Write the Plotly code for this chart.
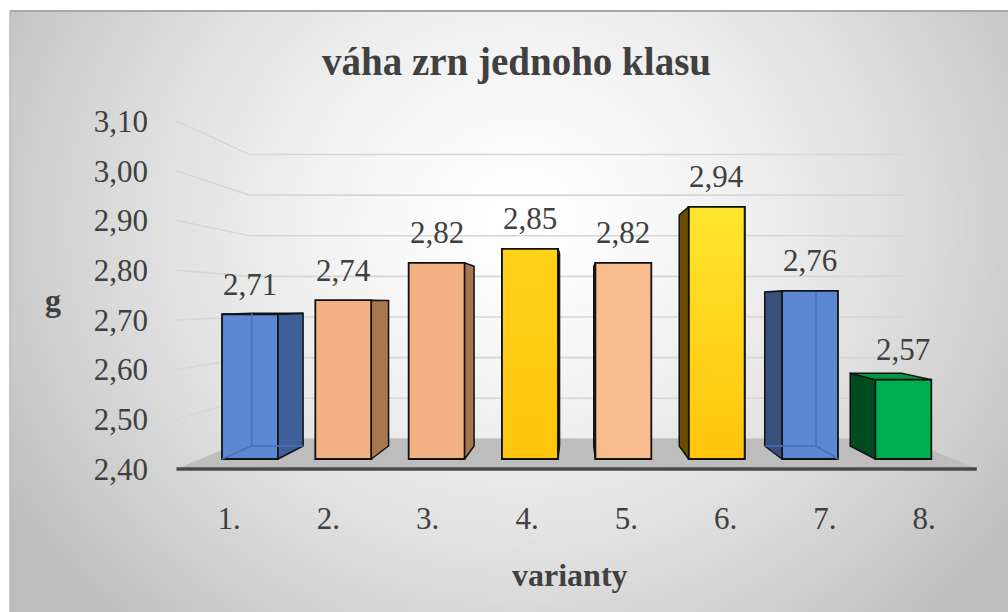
import base64
import struct
import zlib

import numpy as np
import plotly.graph_objects as go

# ---------------- data ----------------
categories = ["1.", "2.", "3.", "4.", "5.", "6.", "7.", "8."]
values = [2.71, 2.74, 2.82, 2.85, 2.82, 2.94, 2.76, 2.57]
front_colors = ["#5b87d4", "#f4b183", "#f4b183", "#ffc50c", "#f9bc8f", "#ffc50c", "#5b87d4", "#00b050"]
side_colors = ["#3f5f99", "#a8764f", "#a8764f", "#7a5a00", "#a8764f", "#6b4d00", "#394f7c", "#004b20"]
top_colors = ["#4a73bd", "#d99a6c", "#d99a6c", "#e0aa00", "#d99a6c", "#e0aa00", "#4a73bd", "#009a44"]
gradient_tops = [None, None, None, "#ffd21a", None, "#ffe52e", None, None]
y_ticks = [2.40, 2.50, 2.60, 2.70, 2.80, 2.90, 3.00, 3.10]

TITLE = "váha zrn jednoho klasu"
X_TITLE = "varianty"
Y_TITLE = "g"

# ---------------- geometry / style ----------------
W, H = 1008, 612
FONT = "Liberation Serif"
TXT = "#404040"
BASE = y_ticks[0]
N = len(values)

# scale of the bar plane (pixels per category / per unit)
PX0, PX_STEP = 250.0, 93.33
PY_BASE, PY_UNIT = 459.0, 467.0
x_range = [(0 - PX0) / PX_STEP, (W - PX0) / PX_STEP]
y_range = [BASE - (H - PY_BASE) / PY_UNIT, BASE + PY_BASE / PY_UNIT]

# simple perspective: vanishing point + depth factors
VX = (N - 1) / 2.0
VY = BASE + (PY_BASE - 304.0) / PY_UNIT
K_BAR = 0.084     # bar depth
K_BACK = 0.13     # back wall
K_FRONT = -0.064  # front edge of the floor / side wall
WALL_L, WALL_R = -0.53, (N - 1) + 0.53
BAR_W = 0.60
EDGE = "#111111"


def proj(x, y, k):
    return x + k * (VX - x), y + k * (VY - y)


def fmt(v):
    return f"{v:.2f}".replace(".", ",")


def make_png(rgb):
    h, w, _ = rgb.shape
    raw = b"".join(b"\x00" + rgb[r].tobytes() for r in range(h))

    def chunk(tag, data):
        c = struct.pack(">I", len(data)) + tag + data
        return c + struct.pack(">I", zlib.crc32(tag + data) & 0xFFFFFFFF)

    ihdr = struct.pack(">IIBBBBB", w, h, 8, 2, 0, 0, 0)
    return (b"\x89PNG\r\n\x1a\n" + chunk(b"IHDR", ihdr)
            + chunk(b"IDAT", zlib.compress(raw, 9)) + chunk(b"IEND", b""))


# radial background gradient
gw, gh = 250, 150
gx = np.linspace(10, W, gw)[None, :]
gy = np.linspace(11, H, gh)[:, None]
d = np.sqrt(((gx - 520) / 560) ** 2 + ((gy - 220) / 520) ** 2)
t = np.clip(d, 0, 1.08) ** 1.5
c = (255 - 58 * t).clip(0, 255).astype(np.uint8)
bg = np.stack([c, c, c], axis=-1)
bg_uri = "data:image/png;base64," + base64.b64encode(make_png(bg)).decode()

fig = go.Figure()

# ---------------- walls: gridlines + floor (shapes below traces) ----------------
shapes = []
for v in y_ticks:
    p0 = proj(WALL_L, v, K_FRONT)
    p1 = proj(WALL_L, v, K_BACK)
    p2 = proj(WALL_R, v, K_BACK)
    shapes.append(dict(type="path", xref="x", yref="y", layer="below",
                       path=f"M {p0[0]},{p0[1]} L {p1[0]},{p1[1]} L {p2[0]},{p2[1]}",
                       line=dict(color="#d6d6d6", width=1.6)))
f0 = proj(WALL_L, BASE, K_FRONT)
f1 = proj(WALL_R, BASE, K_FRONT)
f2 = proj(WALL_R, BASE, K_BACK)
f3 = proj(WALL_L, BASE, K_BACK)
shapes.append(dict(type="path", xref="x", yref="y", layer="below",
                   path=f"M {f0[0]},{f0[1]} L {f1[0]},{f1[1]} L {f2[0]},{f2[1]} L {f3[0]},{f3[1]} Z",
                   fillcolor="#bdbdbd", line=dict(width=0)))
shapes.append(dict(type="line", xref="x", yref="y", layer="below",
                   x0=f0[0], y0=f0[1], x1=f1[0], y1=f1[1],
                   line=dict(color="#4a4a4a", width=3.5)))
# chart frame border (top + left)
shapes.append(dict(type="line", xref="paper", yref="paper", x0=10 / W, x1=1, y0=1 - 11 / H, y1=1 - 11 / H,
                   line=dict(color="#a8a8a8", width=2)))
shapes.append(dict(type="line", xref="paper", yref="paper", x0=10 / W, x1=10 / W, y0=0, y1=1 - 11 / H,
                   line=dict(color="#b8b8b8", width=1.5)))

# ---------------- front faces (bars) ----------------
fig.add_trace(go.Bar(
    x=list(range(N)), y=[v - BASE for v in values], base=BASE, width=BAR_W,
    marker=dict(color=front_colors, line=dict(color=EDGE, width=1.8)),
    hoverinfo="skip", showlegend=False,
))

# vertical colour gradient on the yellow front faces
for i, v in enumerate(values):
    if gradient_tops[i]:
        xl, xr = i - BAR_W / 2, i + BAR_W / 2
        fig.add_trace(go.Scatter(
            x=[xl, xr, xr, xl, xl], y=[BASE, BASE, v, v, BASE], mode="lines", fill="toself",
            fillgradient=dict(type="vertical",
                              colorscale=[[0, front_colors[i]], [1, gradient_tops[i]]]),
            line=dict(color=EDGE, width=1.8), hoverinfo="skip", showlegend=False))

# ---------------- side / top faces ----------------
for i, v in enumerate(values):
    xl, xr = i - BAR_W / 2, i + BAR_W / 2
    faces = []
    e = xr if i < VX else xl
    a = (e, BASE)
    b = (e, v)
    cc = proj(e, v, K_BAR)
    dd = proj(e, BASE, K_BAR)
    faces.append(([a[0], b[0], cc[0], dd[0], a[0]], [a[1], b[1], cc[1], dd[1], a[1]], side_colors[i]))
    if v < VY:
        p1 = proj(xr, v, K_BAR)
        p2 = proj(xl, v, K_BAR)
        faces.append(([xl, xr, p1[0], p2[0], xl], [v, v, p1[1], p2[1], v], top_colors[i]))
    for fx, fy, col in faces:
        fig.add_trace(go.Scatter(x=fx, y=fy, mode="lines", fill="toself", fillcolor=col,
                                 line=dict(color=EDGE, width=1.5),
                                 hoverinfo="skip", showlegend=False))
    # hidden back edges seen through the translucent blue bars
    if front_colors[i] == "#5b87d4":
        far = xl if i < VX else xr
        q0 = proj(far, BASE, K_BAR)
        q1 = proj(far, v, K_BAR)
        q2 = proj(e, BASE, K_BAR)
        fig.add_trace(go.Scatter(x=[far, q0[0], q1[0], None, q0[0], q2[0]],
                                 y=[BASE, q0[1], q1[1], None, q0[1], q2[1]],
                                 mode="lines", line=dict(color="#4670b8", width=1.5),
                                 hoverinfo="skip", showlegend=False))

# ---------------- value labels & titles ----------------
annotations = []
for i, v in enumerate(values):
    annotations.append(dict(x=i, y=v, xref="x", yref="y", text=fmt(v), showarrow=False,
                            xanchor="center", yanchor="middle",
                            yshift=30, font=dict(family=FONT, size=31, color=TXT)))

annotations.append(dict(x=516 / W, y=1 - 62 / H, xref="paper", yref="paper", text=f"<b>{TITLE}</b>",
                        xanchor="center", yanchor="middle",
                        showarrow=False, font=dict(family=FONT, size=39, color=TXT)))
annotations.append(dict(x=570 / W, y=1 - 575 / H, xref="paper", yref="paper", text=f"<b>{X_TITLE}</b>",
                        xanchor="center", yanchor="middle",
                        showarrow=False, font=dict(family=FONT, size=32, color=TXT)))
annotations.append(dict(x=53 / W, y=1 - 300 / H, xref="paper", yref="paper", text=f"<b>{Y_TITLE}</b>",
                        xanchor="center", yanchor="middle",
                        showarrow=False, font=dict(family=FONT, size=32, color=TXT)))

x_tickvals = [proj(i, BASE, K_FRONT)[0] for i in range(N)]
y_tickvals = [proj(WALL_L, v, K_FRONT)[1] for v in y_ticks]

fig.update_layout(
    width=W, height=H, autosize=False,
    margin=dict(l=0, r=0, t=0, b=0, pad=0),
    paper_bgcolor="#ffffff", plot_bgcolor="rgba(0,0,0,0)",
    showlegend=False, bargap=0, hovermode=False,
    images=[dict(source=bg_uri, xref="paper", yref="paper", x=10 / W, y=1 - 11 / H,
                 sizex=(W - 10) / W, sizey=(H - 11) / H, sizing="stretch",
                 xanchor="left", yanchor="top", layer="below")],
    shapes=shapes,
    annotations=annotations,
    xaxis=dict(range=x_range, domain=[0, 1], anchor="free", position=1 - 497 / H,
               tickmode="array", tickvals=x_tickvals, ticktext=categories,
               showgrid=False, zeroline=False, showline=False, ticks="",
               tickfont=dict(family=FONT, size=31, color=TXT), fixedrange=True),
    yaxis=dict(range=y_range, domain=[0, 1], anchor="free", position=148 / W,
               tickmode="array", tickvals=y_tickvals, ticktext=[fmt(v) for v in y_ticks],
               showgrid=False, zeroline=False, showline=False, ticks="",
               tickfont=dict(family=FONT, size=31, color=TXT), fixedrange=True),
)

fig.write_html("out.html", config={"displayModeBar": False, "staticPlot": True},
               post_script="document.body.style.margin='0px';")
